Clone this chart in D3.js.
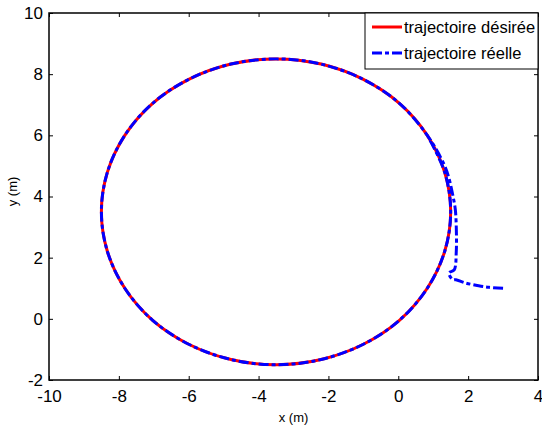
<!DOCTYPE html>
<html>
<head>
<meta charset="utf-8">
<script src="https://cdn.jsdelivr.net/npm/d3@7"></script>
<style>
body { margin: 0; background: #fff; }
text { font-family: "Liberation Sans", Arial, sans-serif; fill: #000; }
</style>
</head>
<body>
<svg></svg>
<script>
var screen = {width: 542, height: 432};
var margins = {top: 13, right: 3, bottom: 52, left: 49};

// trajectoire désirée (x, y)
var desiredX = [1.5, 1.33, 0.83, 0.04, -1.0, -2.21, -3.5, -4.79, -6.0, -7.04, -7.83, -8.33,
                -8.5, -8.33, -7.83, -7.04, -6.0, -4.79, -3.5, -2.21, -1.0, 0.04, 0.83, 1.33];
var desiredY = [3.5, 4.79, 6.0, 7.04, 7.83, 8.33, 8.5, 8.33, 7.83, 7.04, 6.0, 4.79,
                3.5, 2.21, 1.0, -0.04, -0.83, -1.33, -1.5, -1.33, -0.83, -0.04, 1.0, 2.21];

// trajectoire réelle (x, y)
var realX = [3.0, 2.6, 2.3, 1.9, 1.65, 1.56, 1.45, 1.6, 1.66, 1.66, 1.63, 1.55, 1.45, 1.31,
             0.83, 0.04, -1.0, -2.21, -3.5, -4.79, -6.0, -7.04, -7.83, -8.33,
             -8.5, -8.33, -7.83, -7.04, -6.0, -4.79, -3.5, -2.21, -1.0, 0.04, 0.83, 1.33, 1.5, 1.33, 0.83];
var realY = [1.0, 1.03, 1.08, 1.18, 1.28, 1.28, 1.5, 1.6, 2.2, 3.0, 3.6, 4.1, 4.6, 5.05,
             6.0, 7.04, 7.83, 8.33, 8.5, 8.33, 7.83, 7.04, 6.0, 4.79,
             3.5, 2.21, 1.0, -0.04, -0.83, -1.33, -1.5, -1.33, -0.83, -0.04, 1.0, 2.21, 3.5, 4.79, 6.0];

var xTicks = [-10, -8, -6, -4, -2, 0, 2, 4];
var yTicks = [-2, 0, 2, 4, 6, 8, 10];
var legendLabels = ["trajectoire désirée", "trajectoire réelle"];

var plain = function(d){ return String(d); };

var setup = function()
{
    var svg = d3.select("svg")
    .attr("width", screen.width)
    .attr("height", screen.height);

    var width = screen.width - margins.left - margins.right - 1;
    var height = screen.height - margins.top - margins.bottom;

    var xScale = d3.scaleLinear().domain([-10, 4]).range([0, width]);
    var yScale = d3.scaleLinear().domain([-2, 10]).range([height, 0]);

    var g = svg.append("g")
    .attr("id", "graph")
    .attr("transform", "translate(" + margins.left + "," + margins.top + ")");

    drawAxes(g, xScale, yScale, width, height);
    drawLines(g, xScale, yScale);
    drawLegend(g, width);

    svg.append("text")
    .attr("x", margins.left + width / 2)
    .attr("y", 422)
    .attr("text-anchor", "middle")
    .style("font-size", "13px")
    .text("x (m)");

    svg.append("text")
    .attr("transform", "translate(17," + (margins.top + height / 2 - 5) + ") rotate(-90)")
    .attr("text-anchor", "middle")
    .style("font-size", "13px")
    .text("y (m)");
}

var drawAxes = function(g, xScale, yScale, width, height)
{
    var tick = 4;

    g.append("g")
    .attr("transform", "translate(0," + height + ")")
    .call(d3.axisBottom(xScale).tickValues(xTicks).tickSize(-tick).tickPadding(10).tickFormat(plain))
    .call(function(a){ a.select(".domain").remove(); })
    .selectAll("text").style("font-size", "17px").attr("fill", "#000");

    g.append("g")
    .call(d3.axisLeft(yScale).tickValues(yTicks).tickSize(-tick).tickPadding(6).tickFormat(plain))
    .call(function(a){ a.select(".domain").remove(); })
    .selectAll("text").style("font-size", "17px").attr("fill", "#000");

    g.append("g")
    .call(d3.axisTop(xScale).tickValues(xTicks).tickSize(-tick).tickFormat(""))
    .call(function(a){ a.select(".domain").remove(); });

    g.append("g")
    .attr("transform", "translate(" + width + ",0)")
    .call(d3.axisRight(yScale).tickValues(yTicks).tickSize(-tick).tickFormat(""))
    .call(function(a){ a.select(".domain").remove(); });

    g.selectAll(".tick line").attr("stroke", "#000");

    g.append("rect")
    .attr("width", width)
    .attr("height", height)
    .attr("fill", "none")
    .attr("stroke", "#000")
    .attr("stroke-width", 1.5);
}

var drawLines = function(g, xScale, yScale)
{
    var desired = desiredX.map(function(d, i){ return [d, desiredY[i]]; });
    var real = realX.map(function(d, i){ return [d, realY[i]]; });

    var closedLine = d3.line()
    .x(function(d){ return xScale(d[0]); })
    .y(function(d){ return yScale(d[1]); })
    .curve(d3.curveCatmullRomClosed);

    var openLine = d3.line()
    .x(function(d){ return xScale(d[0]); })
    .y(function(d){ return yScale(d[1]); })
    .curve(d3.curveCatmullRom);

    g.append("path")
    .attr("d", closedLine(desired))
    .attr("fill", "none")
    .attr("stroke", "#ff0000")
    .attr("stroke-width", 3);

    g.append("path")
    .attr("d", openLine(real))
    .attr("fill", "none")
    .attr("stroke", "#0000ff")
    .attr("stroke-width", 3)
    .attr("stroke-dasharray", "10,3,4,3");
}

var drawLegend = function(g, width)
{
    var lg = g.append("g")
    .attr("transform", "translate(" + (width - 173) + ",0)");

    lg.append("rect")
    .attr("width", 173)
    .attr("height", 56)
    .attr("fill", "#fff")
    .attr("stroke", "#000")
    .attr("stroke-width", 1);

    var colors = ["#ff0000", "#0000ff"];
    var dashes = [null, "10,3,4,3"];

    var rows = lg.selectAll(".row")
    .data(legendLabels)
    .enter()
    .append("g")
    .attr("class", "row")
    .attr("transform", function(d, i){ return "translate(0," + (14 + i * 26) + ")"; });

    rows.append("line")
    .attr("x1", 7)
    .attr("x2", 37)
    .attr("stroke", function(d, i){ return colors[i]; })
    .attr("stroke-width", 3)
    .attr("stroke-dasharray", function(d, i){ return dashes[i]; });

    rows.append("text")
    .attr("x", 39)
    .attr("y", 6)
    .style("font-size", "16.5px")
    .text(function(d){ return d; });
}

setup();
</script>
</body>
</html>
